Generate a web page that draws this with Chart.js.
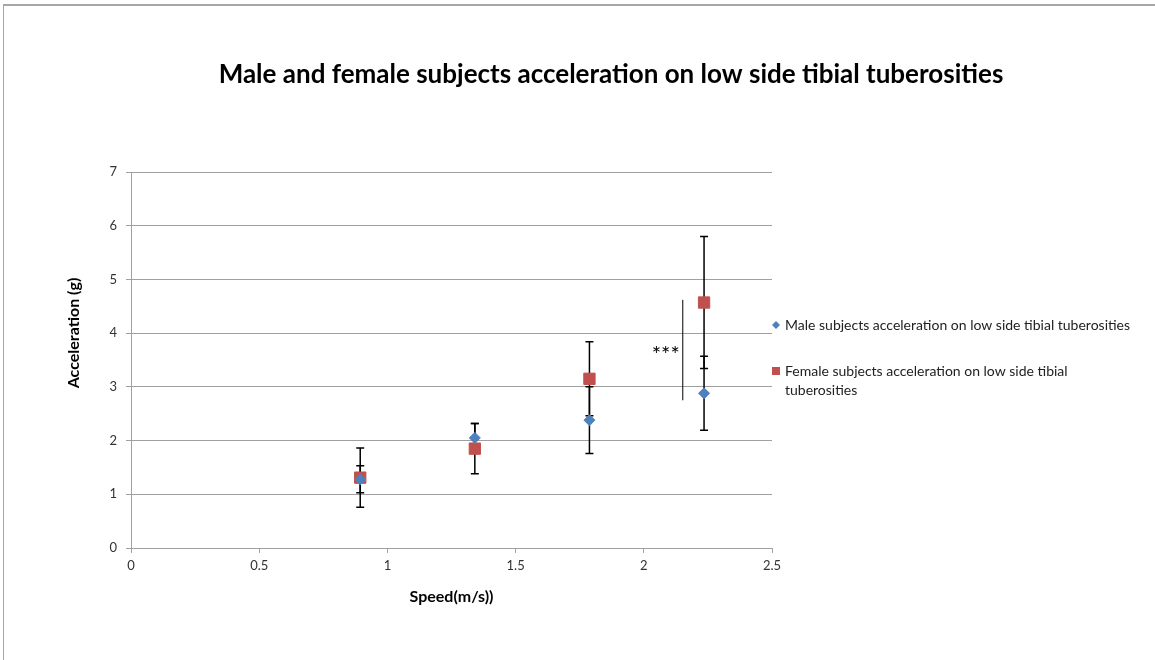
<!DOCTYPE html>
<html>
<head>
<meta charset="utf-8">
<script src="https://cdn.jsdelivr.net/npm/chart.js@4.4.1/dist/chart.umd.min.js"></script>
<style>
  body { margin: 0; background: #fff; }
  #wrap { position: relative; width: 1155px; height: 660px; }
  #frame { position: absolute; left: 3px; top: 4px; right: 0; bottom: 0;
           border-left: 1px solid #a6a6a6; border-top: 2px solid #a6a6a6; }
  canvas { position: absolute; left: 0; top: 0; }
</style>
</head>
<body>
<div id="wrap">
  <div id="frame"></div>
  <canvas id="accChart" width="1155" height="660"></canvas>
</div>
<script>
// speeds 2,3,4,5 mph in m/s
const speeds = [0.894, 1.341, 1.788, 2.235];
const maleAccel = [1.28, 2.05, 2.38, 2.88];
const maleErr = [0.25, 0.27, 0.62, 0.69];
const femaleAccel = [1.31, 1.85, 3.15, 4.57];
const femaleErr = [0.55, 0.47, 0.69, 1.23];
const yTicks = [0, 1, 2, 3, 4, 5, 6, 7];
const xTicks = [0, 0.5, 1, 1.5, 2, 2.5];
// significance bracket between the groups at the top speed
const sigX = 2.152;
const sigRange = [2.75, 4.62];
const sigLabel = '***';
const chartTitle = 'Male and female subjects acceleration on low side tibial tuberosities';
const yTitle = 'Acceleration (g)';

const BLUE = '#4f81bd';
const RED = '#c0504d';
const FONT = 'Lato, "Open Sans", sans-serif';

function toPoints(xs, ys, errs) {
  return xs.map((x, i) => ({ x: x, y: ys[i], err: errs[i] }));
}

// black error bars, drawn under the markers
const errorBars = {
  id: 'errorBars',
  beforeDatasetsDraw(chart) {
    const { ctx, scales: { x, y } } = chart;
    ctx.save();
    ctx.strokeStyle = '#000';
    ctx.lineWidth = 1.5;
    chart.data.datasets.forEach(ds => {
      ds.data.forEach(p => {
        const px = x.getPixelForValue(p.x);
        const top = y.getPixelForValue(p.y + p.err);
        const bot = y.getPixelForValue(p.y - p.err);
        ctx.beginPath();
        ctx.moveTo(px, top); ctx.lineTo(px, bot);
        ctx.moveTo(px - 4, top); ctx.lineTo(px + 4, top);
        ctx.moveTo(px - 4, bot); ctx.lineTo(px + 4, bot);
        ctx.stroke();
      });
    });
    // significance line and stars
    const sx = x.getPixelForValue(sigX);
    const s1 = y.getPixelForValue(sigRange[0]);
    const s2 = y.getPixelForValue(sigRange[1]);
    ctx.lineWidth = 1;
    ctx.beginPath();
    ctx.moveTo(sx, s1); ctx.lineTo(sx, s2);
    ctx.stroke();
    ctx.fillStyle = '#000';
    ctx.font = '22px ' + FONT;
    ctx.textAlign = 'right';
    ctx.textBaseline = 'middle';
    ctx.fillText(sigLabel, sx - 3, (s1 + s2) / 2 + 5);
    ctx.restore();
  }
};

// titles and Excel-style legend on the right, with wrapping
const sideLegend = {
  id: 'sideLegend',
  afterDraw(chart) {
    const { ctx, chartArea } = chart;
    ctx.save();
    ctx.fillStyle = '#000';
    ctx.font = 'bold 26px ' + FONT;
    ctx.textAlign = 'center';
    ctx.textBaseline = 'middle';
    ctx.fillText(chartTitle, chartArea.right - 161, 75);

    ctx.save();
    ctx.translate(74, chartArea.top + 161);
    ctx.rotate(-Math.PI / 2);
    ctx.font = 'bold 16px ' + FONT;
    ctx.fillText(yTitle, 0, 0);
    ctx.restore();

    const mx = chartArea.right + 4;
    const tx = chartArea.right + 13;
    const maxW = 350;
    const mid = (chartArea.top + chartArea.bottom) / 2;
    let rowY = mid - 35;
    ctx.font = '14px ' + FONT;
    ctx.textAlign = 'left';
    chart.data.datasets.forEach(ds => {
      ctx.fillStyle = ds.backgroundColor;
      ctx.beginPath();
      if (ds.pointStyle === 'rectRot') {
        ctx.moveTo(mx - 4, rowY); ctx.lineTo(mx, rowY - 4);
        ctx.lineTo(mx + 4, rowY); ctx.lineTo(mx, rowY + 4);
      } else {
        ctx.rect(mx - 4, rowY - 4, 8, 8);
      }
      ctx.fill();
      ctx.fillStyle = '#222';
      const words = ds.label.split(' ');
      let line = '';
      let ly = rowY;
      words.forEach(w => {
        const test = line ? line + ' ' + w : w;
        if (ctx.measureText(test).width > maxW && line) {
          ctx.fillText(line, tx, ly);
          line = w;
          ly += 19;
        } else {
          line = test;
        }
      });
      ctx.fillText(line, tx, ly);
      rowY = ly + 46;
    });
    ctx.restore();
  }
};

const CHART = document.getElementById('accChart');
let accChart = new Chart(CHART, {
  type: 'scatter',
  data: {
    datasets: [{
      label: 'Male subjects acceleration on low side tibial tuberosities',
      data: toPoints(speeds, maleAccel, maleErr),
      backgroundColor: BLUE,
      borderColor: BLUE,
      pointStyle: 'rectRot',
      pointRadius: 5.5,
      pointHoverRadius: 5.5
    }, {
      label: 'Female subjects acceleration on low side tibial tuberosities',
      data: toPoints(speeds, femaleAccel, femaleErr),
      backgroundColor: RED,
      borderColor: RED,
      pointStyle: 'rect',
      pointRadius: 8,
      pointHoverRadius: 8
    }]
  },
  options: {
    responsive: false,
    animation: false,
    events: [],
    layout: { padding: { left: 62, right: 383, top: 172, bottom: 40 } },
    plugins: {
      legend: { display: false },
      tooltip: { enabled: false },
      title: { display: false }
    },
    scales: {
      x: {
        type: 'linear',
        min: 0,
        max: 2.5,
        afterBuildTicks: s => { s.ticks = xTicks.map(v => ({ value: v })); },
        afterFit: s => { s.height = 72; },
        grid: { drawOnChartArea: false, color: '#a0a0a0', tickLength: 5 },
        border: { color: '#a0a0a0' },
        ticks: { color: '#333', padding: 5, callback: v => String(v), font: { family: FONT, size: 13 } },
        title: {
          display: true, text: 'Speed(m/s))', color: '#000',
          font: { family: FONT, size: 16, weight: 'bold' },
          padding: { top: 4, bottom: 13.5 }
        }
      },
      y: {
        type: 'linear',
        min: 0,
        max: 7,
        afterBuildTicks: s => { s.ticks = yTicks.map(v => ({ value: v })); },
        afterFit: s => { s.width = 69; },
        grid: { color: '#a0a0a0', tickLength: 5 },
        border: { color: '#a0a0a0' },
        ticks: { color: '#333', padding: 9, callback: v => String(v), font: { family: FONT, size: 13 } },
        title: { display: false }
      }
    }
  },
  plugins: [errorBars, sideLegend]
});
</script>
</body>
</html>
